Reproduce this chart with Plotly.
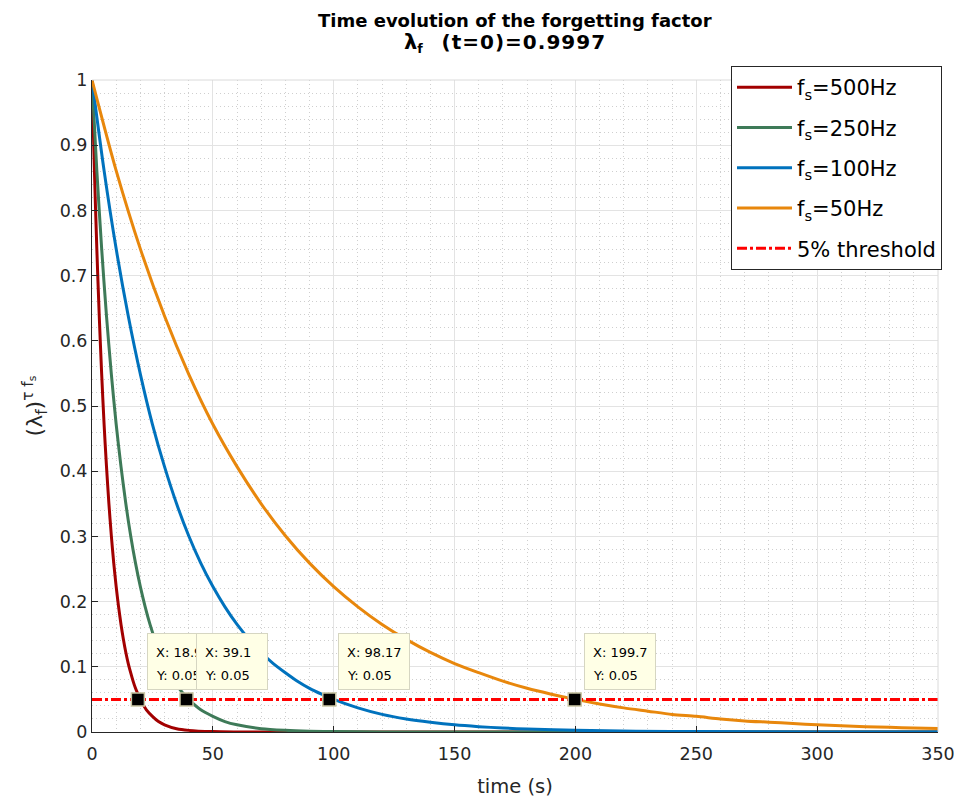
import plotly.graph_objects as go

# Decay curves (lambda_f)^(tau*fs) for several sampling rates
t_500 = [0, 1, 2, 3, 4, 5, 6, 7, 8, 9, 10, 11, 12, 13, 14, 15, 16, 17, 18, 19, 20,
         22.5, 25, 27.5, 30, 35, 40, 50, 60, 80, 350]
y_500 = [1, 0.861, 0.741, 0.638, 0.549, 0.472, 0.407, 0.350, 0.301, 0.259, 0.223,
         0.192, 0.165, 0.142, 0.122, 0.105, 0.091, 0.078, 0.067, 0.058, 0.050,
         0.034, 0.024, 0.016, 0.011, 0.005, 0.0025, 0.0006, 0.0001, 0, 0]

t_250 = [0, 2, 4, 6, 8, 10, 12, 14, 16, 18, 20, 22, 24, 26, 28, 30, 32, 34, 36, 38, 40,
         45, 50, 55, 60, 70, 80, 90, 100, 120, 160, 350]
y_250 = [1, 0.861, 0.741, 0.638, 0.549, 0.472, 0.407, 0.350, 0.301, 0.259, 0.223,
         0.192, 0.165, 0.142, 0.122, 0.105, 0.091, 0.078, 0.067, 0.058, 0.050,
         0.034, 0.024, 0.016, 0.011, 0.005, 0.0025, 0.0012, 0.0006, 0.0001, 0, 0]

t_100 = [0, 5, 10, 15, 20, 25, 30, 35, 40, 45, 50, 55, 60, 65, 70, 75, 80, 85, 90, 95, 100,
         110, 120, 130, 140, 150, 160, 170, 180, 200, 225, 250, 300, 350]
y_100 = [1, 0.861, 0.741, 0.638, 0.549, 0.472, 0.407, 0.350, 0.301, 0.259, 0.223,
         0.192, 0.165, 0.142, 0.122, 0.105, 0.091, 0.078, 0.067, 0.058, 0.050,
         0.037, 0.027, 0.020, 0.015, 0.011, 0.0082, 0.0061, 0.0045, 0.0025, 0.0012,
         0.0006, 0.0001, 0]

t_50 = [0, 10, 20, 30, 40, 50, 60, 70, 80, 90, 100, 110, 120, 130, 140, 150, 160, 170,
        180, 190, 200, 210, 220, 230, 240, 250, 260, 270, 280, 290, 300, 310, 320, 330,
        340, 350]
y_50 = [1, 0.861, 0.741, 0.638, 0.549, 0.472, 0.407, 0.350, 0.301, 0.259, 0.223,
        0.192, 0.165, 0.142, 0.122, 0.105, 0.091, 0.078, 0.067, 0.058, 0.050,
        0.043, 0.037, 0.032, 0.027, 0.024, 0.020, 0.017, 0.015, 0.013, 0.011,
        0.0095, 0.0082, 0.0071, 0.0061, 0.0052]

threshold = 0.05

# Data tips where each curve crosses the threshold
tip_x = [18.98, 39.1, 98.17, 199.7]
tip_y = [0.05, 0.05, 0.05, 0.05]

x_ticks = [0, 50, 100, 150, 200, 250, 300, 350]
y_ticks = [0, 0.1, 0.2, 0.3, 0.4, 0.5, 0.6, 0.7, 0.8, 0.9, 1]
y_tick_text = ["0", "0.1", "0.2", "0.3", "0.4", "0.5", "0.6", "0.7", "0.8", "0.9", "1"]

FONT = "DejaVu Sans"
AX = "#262626"
GRID = "#E3E3E3"
MINOR = "#CFCFCF"

series = [
    ("f<sub>s</sub>=500Hz", t_500, y_500, "#A20000"),
    ("f<sub>s</sub>=250Hz", t_250, y_250, "#3E7A58"),
    ("f<sub>s</sub>=100Hz", t_100, y_100, "#0072BD"),
    ("f<sub>s</sub>=50Hz", t_50, y_50, "#E8870C"),
]

fig = go.Figure()
for i, (name, tx, ty, col) in enumerate(series):
    fig.add_trace(go.Scatter(x=tx, y=ty, mode="lines", name=name,
                             legendgroup=f"g{i}",
                             line=dict(color=col, width=3, shape="spline", smoothing=0.8)))

fig.add_trace(go.Scatter(x=[0, 350], y=[threshold, threshold], mode="lines",
                         name="5% threshold", legendgroup="g4",
                         line=dict(color="#FF0000", width=3, dash="10px,3px,3px,3px")))

fig.add_trace(go.Scatter(x=tip_x, y=tip_y, mode="markers", showlegend=False,
                         marker=dict(symbol="square", size=13, color="black",
                                     line=dict(color="#C9C5A2", width=1.5)),
                         cliponaxis=False))

# Data-tip boxes: each box is drawn after the previous tip's text so it overlaps it
for x, y in zip(tip_x, tip_y):
    fig.add_annotation(x=x, y=y, xref="x", yref="y", showarrow=False, text=" ",
                       xanchor="left", yanchor="bottom", xshift=9, yshift=9,
                       width=70, height=55, borderpad=0,
                       bgcolor="#FFFFE6", bordercolor="#D6D6C2", borderwidth=1,
                       font=dict(family=FONT, size=13))
    for line_text, dy in ((f"X: {x:g}", 47), (f"Y: {y:g}", 24)):
        fig.add_annotation(x=x, y=y, xref="x", yref="y", showarrow=False,
                           text=line_text, xanchor="left", yanchor="middle",
                           xshift=16, yshift=dy,
                           font=dict(family=FONT, size=13, color="black"))

# Title lines
fig.add_annotation(x=0.5, y=1 + (80 - 20) / 652, xref="paper", yref="paper",
                   showarrow=False, xanchor="center", yanchor="middle",
                   text="<b>Time evolution of the forgetting factor</b>",
                   font=dict(family=FONT, size=18, color="black"))
fig.add_annotation(x=(505 - 92) / 846, y=1 + (80 - 43) / 652, xref="paper", yref="paper",
                   showarrow=False, xanchor="center", yanchor="middle",
                   text="<b><span style='font-size:21px'>λ</span><sub>f</sub>   "
                        "<span style='font-size:20px;letter-spacing:1px'>(t=0)=0.9997</span></b>",
                   font=dict(family=FONT, size=18, color="black"))

# Light border along the top and right edges of the plot area
fig.add_shape(type="line", xref="paper", yref="paper", x0=0, x1=1, y0=1, y1=1,
              line=dict(color="#DADADA", width=1))
fig.add_shape(type="line", xref="paper", yref="paper", x0=1, x1=1, y0=0, y1=1,
              line=dict(color="#DADADA", width=1))

grid_axis = dict(
    showline=True, linecolor=AX, linewidth=1, mirror=False,
    ticks="inside", ticklen=6, tickcolor=AX, tickwidth=1,
    showgrid=True, gridcolor=GRID, gridwidth=1,
    zeroline=False, ticklabeloverflow="allow", automargin=False,
    tickfont=dict(family=FONT, size=17.5, color=AX),
)

fig.update_xaxes(range=[0, 350], tickvals=x_ticks, ticklabelstandoff=6,
                 minor=dict(dtick=10, showgrid=True, gridcolor=MINOR,
                            griddash="1px,3px", ticks=""),
                 title=dict(text="time (s)", font=dict(family=FONT, size=19.5, color=AX),
                            standoff=16),
                 **grid_axis)
fig.update_yaxes(range=[0, 1], tickvals=y_ticks, ticktext=y_tick_text,
                 minor=dict(dtick=0.02, showgrid=True, gridcolor=MINOR,
                            griddash="1px,3px", ticks=""),
                 title=dict(text="(λ<sub>f</sub>)<sup>τ f<sub>s</sub></sup>",
                            font=dict(family=FONT, size=22, color=AX), standoff=10),
                 **grid_axis)

fig.update_layout(
    width=954, height=799,
    margin=dict(l=92, r=16, t=80, b=67, autoexpand=False),
    paper_bgcolor="white", plot_bgcolor="white",
    legend=dict(x=(731 - 92) / 846, y=1.0215, xanchor="left", yanchor="top",
                bgcolor="white", bordercolor=AX, borderwidth=1,
                font=dict(family=FONT, size=21, color="black"),
                itemwidth=55, tracegroupgap=10),
    showlegend=True,
)

fig.write_html("out.html")
